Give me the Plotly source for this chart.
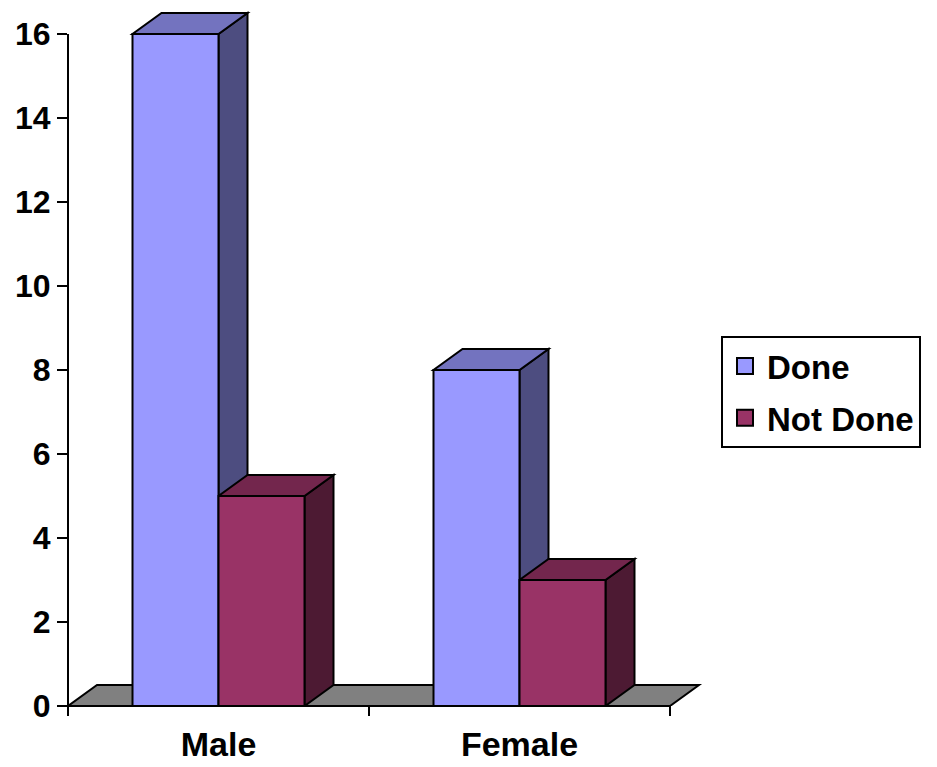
import plotly.graph_objects as go

categories = ["Male", "Female"]
done = [16, 8]
not_done = [5, 3]
series_names = ["Done", "Not Done"]
y_ticks = [0, 2, 4, 6, 8, 10, 12, 14, 16]

front_colors = ["#9999FF", "#993366"]
top_colors = ["#7373BF", "#73264D"]
side_colors = ["#4D4D80", "#4D1A33"]
floor_color = "#808080"

FONT = "Liberation Sans, Arial, sans-serif"

# geometry (in axis units)
px_per_cat = 301.0
px_per_val = 42.0
bar_w = 86.0 / px_per_cat
dx = 29.0 / px_per_cat
dy = 21.0 / px_per_val
x_lo = -0.5
x_hi = len(categories) - 0.5
x_range = [x_lo, x_hi + 50.0 / px_per_cat]
y_range = [0, 706.0 / px_per_val]

xs = list(range(len(categories)))
fig = go.Figure()
for si, (name, vals) in enumerate(zip(series_names, [done, not_done])):
    fig.add_trace(go.Bar(
        x=xs, y=vals, name=name, showlegend=False,
        marker=dict(color=front_colors[si], line=dict(color="black", width=2)),
        hoverinfo="skip",
    ))
# legend entries (square swatches)
for si, name in enumerate(series_names):
    fig.add_trace(go.Scatter(
        x=[None], y=[None], mode="markers", name=name, legendgroup=name,
        marker=dict(symbol="square", size=22, color=front_colors[si],
                    line=dict(color="black", width=2)),
        hoverinfo="skip",
    ))

shapes = []
# floor
shapes.append(dict(type="path", xref="x", yref="y", layer="below",
                   path=f"M{x_lo},0 L{x_hi},0 L{x_hi+dx},{dy} L{x_lo+dx},{dy} Z",
                   fillcolor=floor_color, line=dict(color="black", width=2)))
for si, vals in enumerate([done, not_done]):
    for ci, v in enumerate(vals):
        x0 = ci - bar_w + si * bar_w
        x1 = x0 + bar_w
        # side
        shapes.append(dict(type="path", xref="x", yref="y", layer="below",
                           path=f"M{x1},0 L{x1},{v} L{x1+dx},{v+dy} L{x1+dx},{dy} Z",
                           fillcolor=side_colors[si], line=dict(color="black", width=2)))
        # top
        shapes.append(dict(type="path", xref="x", yref="y", layer="below",
                           path=f"M{x0},{v} L{x1},{v} L{x1+dx},{v+dy} L{x0+dx},{v+dy} Z",
                           fillcolor=top_colors[si], line=dict(color="black", width=2)))

# axis lines (paper coords, derived from the axis ranges)
xspan = x_range[1] - x_range[0]
x_end_paper = (x_hi - x_range[0]) / xspan
y_top_paper = max(y_ticks) / y_range[1]
shapes.append(dict(type="line", xref="paper", yref="paper", x0=0, x1=0, y0=0, y1=y_top_paper,
                   line=dict(color="black", width=2), layer="above"))
shapes.append(dict(type="line", xref="paper", yref="paper", x0=0, x1=x_end_paper, y0=0, y1=0,
                   line=dict(color="black", width=2), layer="above"))
tick_len_paper = 10.0 / 706.0
for k in range(len(categories) + 1):
    xp = (x_lo + k - x_range[0]) / xspan
    shapes.append(dict(type="line", xref="paper", yref="paper", x0=xp, x1=xp, y0=0, y1=-tick_len_paper,
                       line=dict(color="black", width=2), layer="above"))

fig.update_layout(
    width=937, height=767,
    margin=dict(l=68, r=217, t=0, b=61),
    plot_bgcolor="white", paper_bgcolor="white",
    barmode="group", bargap=1 - 2 * bar_w, bargroupgap=0,
    shapes=shapes,
    font=dict(family=FONT, color="black"),
    xaxis=dict(range=x_range, tickvals=xs, ticktext=categories, ticks="",
               showgrid=False, zeroline=False, showline=False,
               tickfont=dict(family=FONT, size=34, weight="bold"),
               ticklabelstandoff=15, fixedrange=True),
    yaxis=dict(range=y_range, tickvals=y_ticks, ticks="outside", ticklen=10, tickwidth=2,
               tickcolor="black", showgrid=False, zeroline=False, showline=False,
               tickfont=dict(family=FONT, size=32, weight="bold"), fixedrange=True),
    legend=dict(xref="container", yref="container", x=721/937, y=1 - 336/767,
                xanchor="left", yanchor="top", bordercolor="black", borderwidth=2,
                bgcolor="white", tracegroupgap=6, traceorder="grouped", itemsizing="trace",
                itemwidth=34,
                font=dict(family=FONT, size=33, weight="bold")),
    showlegend=True,
)

fig.write_html("out.html")
